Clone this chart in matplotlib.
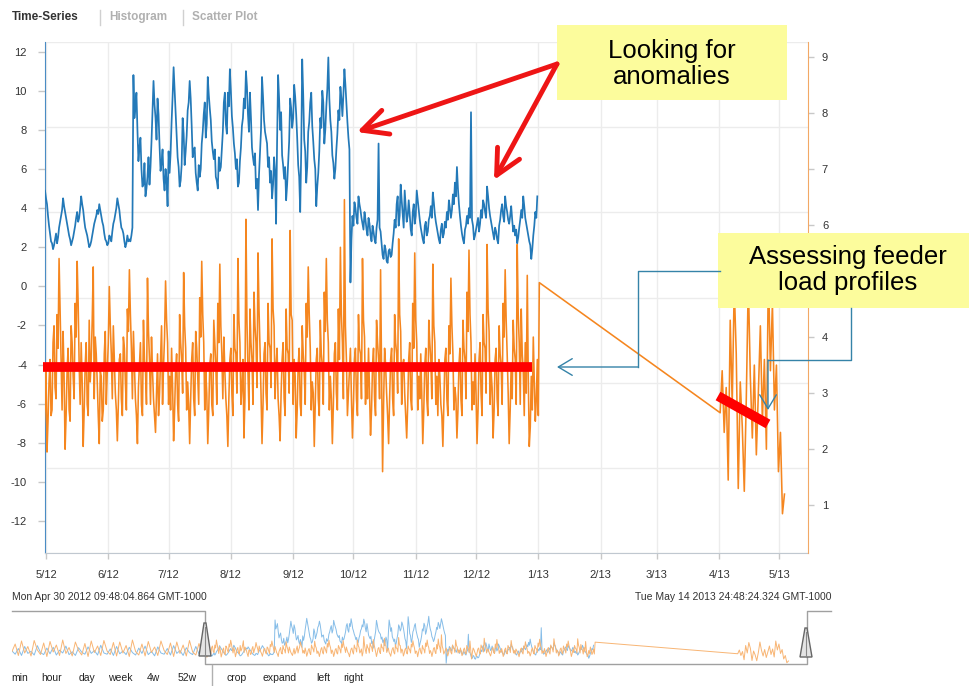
import matplotlib
matplotlib.use('Agg')
import matplotlib.pyplot as plt
import matplotlib.dates as mdates
from matplotlib.patches import Rectangle, Polygon, FancyArrowPatch
from matplotlib.lines import Line2D
from matplotlib.ticker import FuncFormatter
import numpy as np
import pandas as pd

plt.rcParams['font.family'] = ['Liberation Sans', 'DejaVu Sans']

# ---------------- data ----------------
# blue series (left axis): noon readings, daily from 2012-04-30
blue_day = [4.9, 4.2, 3.1, 2.3, 1.9, 2.4, 2.2, 3.0, 3.6, 4.5, 3.8, 3.2, 2.6, 2.1, 2.5, 3.1, 3.8, 3.5, 4.6, 3.9,
            3.0, 2.6, 2.0, 2.3, 2.9, 3.4, 3.9, 4.2, 3.6, 3.1, 2.4, 2.1, 2.6, 2.3, 3.2, 3.7, 4.5, 3.9, 3.0, 2.7,
            2.0, 2.6, 2.4, 2.6,
            10.8, 9.2, 8.0, 7.1, 6.0, 5.2, 4.6, 5.6, 5.2, 7.4, 10.5, 8.6, 9.6, 7.2, 6.3, 5.5, 6.0, 4.1, 5.8, 8.4,
            11.2, 8.9, 6.6, 5.1, 6.2, 7.8, 6.9, 9.0, 10.5, 8.2, 7.0, 5.8, 4.9, 5.6, 7.3, 8.8, 7.6, 10.7, 9.1, 7.4,
            6.5, 5.6, 5.0, 5.9, 7.0, 9.4, 8.3, 9.9, 11.1, 8.7, 7.3, 6.0, 5.1, 6.4, 8.2, 9.6, 11.0, 8.8, 9.9, 7.1,
            6.2, 5.0, 3.9, 6.8, 10.7, 8.5, 7.6, 6.1, 5.3, 4.5, 6.6, 3.2, 10.8, 8.0, 6.7, 5.5, 4.4, 6.3, 9.6, 8.1,
            10.3, 8.8, 6.2, 3.8, 11.6, 7.5, 5.3, 7.9, 9.4, 8.2, 6.5, 4.1, 5.8, 8.6, 10.0, 7.3, 9.2, 11.7, 8.5, 6.7,
            5.5, 7.0, 9.0, 10.2, 8.7, 11.1, 9.3, 7.6,
            0.2, 3.6, 4.3, 3.5, 4.6, 3.9, 3.2, 3.8, 2.9, 3.5, 2.6, 3.1, 2.4, 3.0, 7.3, 2.8, 1.6, 2.1, 1.3, 1.8,
            1.5, 2.2, 3.4, 4.2, 3.1, 5.2, 3.7, 4.9, 3.3, 4.4, 2.9, 3.8, 3.2, 4.9, 3.9, 3.0, 2.4, 3.1, 2.6, 3.4,
            4.1, 4.8, 3.7, 3.0, 2.4, 2.9, 2.5, 3.3, 3.8, 4.4, 3.5, 4.7, 5.3, 6.1, 4.2, 3.1, 2.4, 2.9, 3.6, 4.0,
            8.9, 3.1, 2.6, 3.2, 2.8, 3.9, 4.4, 3.8, 5.1, 4.0, 3.3, 2.7, 3.0, 2.4, 3.1, 3.9, 3.6, 4.6, 3.8, 3.2,
            4.1, 2.8, 2.6, 2.2, 3.0, 3.9, 4.6, 3.5, 2.9, 2.3, 1.4, 2.6, 3.8, 4.6]
# blue series: midnight readings (each one just before the noon reading of the same index)
blue_night = [4.6, 4.5, 3.6, 2.7, 2.2, 2.1, 2.7, 2.5, 3.3, 3.9, 4.1, 3.5, 2.9, 2.4, 2.3, 2.8, 3.5, 3.3, 4.0, 4.2,
              3.4, 2.8, 2.3, 2.1, 2.6, 3.2, 3.6, 3.7, 3.9, 3.3, 2.7, 2.3, 2.2, 2.5, 2.8, 3.4, 4.0, 4.2, 3.4, 2.9,
              2.3, 2.2, 2.3, 2.3,
              3.0, 8.6, 9.9, 6.4, 7.6, 5.1, 6.3, 5.0, 6.6, 6.1, 8.9, 9.3, 7.5, 8.8, 5.9, 7.0, 4.9, 5.4, 6.9, 6.8,
              9.7, 10.1, 7.7, 6.1, 5.4, 8.6, 6.2, 7.7, 9.4, 9.6, 6.6, 7.1, 5.3, 6.2, 6.0, 7.9, 9.4, 8.3, 9.8, 8.5,
              6.9, 7.0, 5.4, 6.6, 6.1, 7.9, 9.9, 7.8, 9.2, 10.0, 8.1, 6.8, 6.5, 5.3, 7.1, 8.6, 9.1, 10.2, 7.9, 8.6,
              6.6, 6.8, 5.5, 5.7, 8.0, 9.7, 7.9, 7.3, 6.6, 5.9, 5.2, 5.9, 7.4, 9.6, 8.9, 6.2, 6.1, 5.2, 7.4, 9.1,
              8.6, 9.7, 7.6, 5.6, 6.9, 9.8, 6.9, 6.1, 8.4, 9.9, 7.4, 6.0, 5.1, 6.9, 8.1, 9.4, 8.0, 10.1, 9.6, 7.9,
              6.3, 6.0, 7.8, 8.5, 9.6, 9.8, 10.3, 8.4,
              7.0, 2.4, 3.1, 4.0, 3.2, 4.2, 3.5, 2.9, 3.4, 2.6, 3.2, 2.3, 2.8, 2.2, 3.4, 3.0, 2.2, 1.4, 1.9, 1.2,
              1.9, 1.6, 2.7, 3.0, 4.6, 3.6, 4.4, 3.0, 4.1, 3.6, 3.7, 2.6, 4.2, 3.6, 4.4, 3.4, 2.7, 2.2, 3.3, 2.8,
              3.6, 3.5, 4.3, 3.3, 2.7, 2.2, 3.2, 2.7, 3.0, 3.4, 4.0, 3.9, 4.2, 4.6, 5.0, 3.6, 2.7, 2.2, 3.1, 3.2,
              3.5, 3.4, 2.4, 2.9, 3.5, 3.2, 3.5, 4.2, 3.5, 4.6, 3.6, 3.0, 2.4, 2.8, 2.2, 3.4, 4.2, 3.3, 4.1, 3.4,
              3.6, 3.4, 3.1, 2.9, 2.5, 3.4, 3.5, 4.1, 3.2, 2.6, 2.1, 1.9, 3.1, 3.5]

# orange series (right axis): noon readings, daily from 2012-04-30
orange_day = [2.8, 1.95, 3.2, 2.6, 3.9, 3.1, 4.4, 5.4, 3.6, 4.1, 2.0,
              3.4, 2.7, 4.2, 3.3, 4.6, 5.35, 3.5, 3.9, 2.05,
              3.5, 2.8, 4.3, 3.6, 5.25, 4.0, 3.2, 2.1,
              3.3, 2.7, 4.1, 3.4, 4.9, 3.7, 4.2, 3.0, 2.15,
              3.6, 2.9, 4.0, 3.2, 4.5, 5.2, 3.8, 4.1, 2.9, 2.1,
              3.5, 2.8, 4.3, 3.4, 5.05, 3.6, 4.0, 2.9, 2.3,
              3.7, 3.0, 4.2, 3.5, 5.0, 3.9, 3.3, 3.8, 2.15,
              3.4, 2.8, 4.4, 3.6, 5.15, 3.8, 3.2, 2.1,
              3.6, 2.9, 4.1, 3.3, 4.7, 5.35, 3.9, 3.4, 2.1,
              3.5, 2.8, 4.3, 3.5, 4.6, 5.3, 3.7, 4.0, 2.9, 2.05,
              3.6, 3.0, 4.4, 3.7, 5.4, 3.9, 3.1, 2.2, 6.1,
              3.4, 4.5, 3.6, 4.8, 3.9, 5.5, 3.8, 2.1,
              3.7, 3.0, 4.6, 3.8, 5.75, 4.2, 3.5, 2.9, 2.15,
              3.6, 2.9, 4.5, 3.7, 5.9, 4.3, 3.6, 2.2,
              3.5, 2.8, 4.2, 3.4, 4.6, 5.25, 3.8, 3.2, 2.05,
              3.6, 2.9, 4.3, 3.5, 4.8, 5.4, 3.9, 3.3, 2.1,
              3.7, 3.0, 4.5, 5.6, 3.9, 6.45, 3.6, 3.0, 3.8, 2.2,
              3.6, 2.9, 4.4, 3.7, 5.4, 4.0, 3.4, 3.8, 2.25,
              3.5, 2.9, 4.3, 3.6, 5.2, 1.6, 3.8, 3.0, 2.1,
              3.6, 2.9, 4.4, 3.7, 5.75, 4.1, 3.5, 3.0, 2.2,
              3.6, 2.9, 4.6, 5.5, 3.9, 3.3, 3.7, 2.1,
              3.5, 2.9, 4.3, 3.6, 5.3, 3.9, 3.3, 3.6, 2.8, 2.05,
              3.6, 2.9, 4.2, 5.05, 3.7, 3.1, 2.2,
              3.5, 2.9, 4.3, 3.6, 4.8, 5.55, 3.9, 3.2, 3.7, 2.1,
              3.6, 3.0, 4.4, 3.8, 5.65, 4.1, 3.4, 2.2,
              3.6, 2.9, 4.2, 3.5, 4.6, 5.2, 3.7, 2.1,
              3.5, 4.3, 3.6, 5.65, 3.9, 4.5, 3.4, 3.9, 5.1, 2.05,
              3.3, 4.0, 2.5, 3.6, 4.97]
# orange series: midnight readings
orange_night = [2.3, 3.4, 2.5, 3.6, 2.7, 4.2, 2.9, 3.8, 4.5, 2.7, 3.3,
                2.6, 3.8, 2.5, 3.9, 2.9, 4.0, 4.6, 2.8, 3.2,
                2.7, 3.9, 2.6, 3.2, 4.3, 2.9, 3.7, 2.6,
                3.4, 2.5, 3.7, 2.8, 3.9, 4.2, 2.9, 3.6, 2.7,
                2.8, 3.7, 2.6, 3.8, 2.7, 4.1, 4.4, 2.9, 3.5, 2.6,
                3.1, 3.9, 2.6, 3.6, 2.8, 4.1, 2.8, 3.4, 2.6,
                3.0, 2.6, 3.6, 2.8, 4.0, 4.3, 2.8, 2.7, 3.1,
                2.7, 3.7, 2.5, 3.9, 3.0, 4.2, 2.7, 2.8,
                2.9, 3.9, 2.6, 3.8, 2.8, 4.0, 4.4, 2.7, 3.0,
                2.7, 3.7, 2.6, 3.9, 2.8, 3.9, 4.2, 2.9, 3.4, 2.6,
                2.9, 3.8, 2.6, 3.8, 3.0, 4.3, 2.8, 3.6, 2.9,
                4.3, 2.7, 3.9, 2.8, 4.2, 3.1, 4.5, 3.0,
                2.8, 3.9, 2.7, 3.9, 3.1, 4.5, 2.9, 3.8, 2.6,
                3.0, 3.9, 2.6, 3.8, 3.0, 4.4, 2.8, 3.3,
                2.7, 3.8, 2.6, 3.7, 2.8, 4.0, 4.4, 2.7, 3.0,
                2.8, 3.8, 2.6, 3.7, 2.8, 4.1, 4.3, 2.7, 2.9,
                2.8, 3.9, 2.7, 3.6, 4.4, 2.9, 4.2, 2.6, 3.4, 2.9,
                2.8, 3.8, 2.6, 3.8, 2.9, 4.3, 2.8, 2.9, 3.0,
                2.7, 3.8, 2.6, 3.9, 2.9, 3.4, 2.8, 3.5, 2.6,
                2.9, 3.8, 2.6, 3.9, 3.0, 4.4, 2.8, 3.6, 2.6,
                2.8, 3.9, 2.7, 3.8, 4.3, 2.7, 2.9, 3.0,
                2.7, 3.8, 2.6, 3.9, 2.9, 4.2, 2.8, 2.6, 3.3, 2.6,
                2.8, 3.8, 2.6, 3.7, 4.2, 2.7, 2.9,
                2.7, 3.8, 2.6, 3.8, 2.9, 4.1, 4.4, 2.7, 2.8, 3.0,
                2.7, 3.9, 2.6, 3.9, 3.0, 4.5, 2.8, 3.1,
                2.7, 3.8, 2.6, 3.7, 2.8, 4.0, 4.3, 3.0,
                2.7, 2.9, 3.8, 2.8, 4.4, 2.8, 3.7, 2.6, 3.0, 3.3,
                2.4, 2.7, 3.2, 2.9, 2.6]

# orange series, April 2013 block (daily from 2013-04-01)
april_orange = [2.65, 3.4, 2.3, 3.1, 1.45, 4.3, 2.8, 4.9, 3.7, 1.3, 3.2, 2.4, 1.25, 2.9, 5.0, 3.3, 2.2,
                3.5, 1.9, 3.0, 4.2, 2.5, 3.6, 2.0, 5.2, 3.4, 4.6, 2.7, 3.5, 1.6, 2.3, 0.85, 1.2]

# navigator only: earlier history (every 2 days from 2011-12-30)
early_blue = [3.2, 2.4, 3.8, 2.1, 4.3, 2.6, 3.1, 2.2, 4.5, 2.8, 2.3, 3.9, 2.5, 4.1, 2.2, 3.4, 2.7, 4.4, 2.3, 3.0,
              2.1, 4.0, 2.9, 2.4, 4.2, 2.6, 3.3, 2.2, 4.6, 2.7, 2.4, 3.7, 2.1, 4.3, 2.5, 3.2, 2.3, 4.1, 2.8, 2.2,
              3.9, 2.6, 4.4, 2.3, 3.1, 2.0, 4.2, 2.7, 2.4, 3.8, 2.2, 4.5, 2.6, 3.3, 2.1, 4.0, 2.8, 2.3, 4.3, 2.5, 3.9]
early_orange = [3.1, 4.6, 2.3, 5.2, 2.8, 4.1, 2.2, 5.3, 3.4, 2.5, 4.8, 2.1, 5.1, 3.0, 4.4, 2.3, 5.4, 2.7, 3.9, 2.2,
                5.0, 3.3, 2.4, 4.7, 2.1, 5.2, 2.9, 4.2, 2.3, 5.3, 3.2, 2.5, 4.9, 2.2, 5.0, 2.8, 4.3, 2.1, 5.4, 3.1,
                2.4, 4.6, 2.2, 5.1, 2.9, 4.0, 2.3, 5.2, 3.3, 2.5, 4.8, 2.1, 5.0, 2.7, 4.4, 2.2, 5.3, 3.0, 2.4, 4.7, 2.8]

left_ticks = list(range(-12, 13, 2))
right_ticks = list(range(1, 10))
tab_labels = ['Time-Series', 'Histogram', 'Scatter Plot']
range_buttons = ['min', 'hour', 'day', 'week', '4w', '52w']
action_buttons = ['crop', 'expand', 'left', 'right']
nav_start_text = 'Mon Apr 30 2012 09:48:04.864 GMT-1000'
nav_end_text = 'Tue May 14 2013 24:48:24.324 GMT-1000'


def interleave(night, day):
    return [v for pair in zip(night, day) for v in pair]


# ---------------- figure ----------------
W, H = 970, 686
fig = plt.figure(figsize=(W / 100, H / 100), dpi=100)
fig.patch.set_facecolor('white')


def fx(x):
    return x / W


def fy(y):
    return 1 - y / H


def fp(x, y):
    return (x / W, 1 - y / H)


BLUE = '#2379b8'
ORANGE = '#f5861f'

ax = fig.add_axes([fx(45), fy(553), fx(808) - fx(45), fy(42) - fy(553)])
ax2 = ax.twinx()

x0 = pd.Timestamp('2012-04-30 12:00')
x1 = pd.Timestamp('2013-05-15 05:00')

blue_vals = interleave(blue_night, blue_day)
blue_dates = pd.date_range('2012-04-30 00:00', periods=len(blue_vals), freq='12h')
orange_vals = interleave(orange_night, orange_day)
orange_dates = pd.date_range('2012-04-30 00:00', periods=len(orange_vals), freq='12h')
april_dates = pd.date_range('2013-04-01 12:00', periods=len(april_orange), freq='D')
early_dates = pd.date_range('2011-12-30 12:00', periods=len(early_blue), freq='2D')

# grid
for k in range(7):
    ax.plot([0, 1], [k / 6, k / 6], transform=ax.transAxes, color='#ececec', lw=1, zorder=0)
ax.xaxis.grid(True, color='#ececec', lw=1, zorder=0)
ax.set_axisbelow(True)

ax.plot(blue_dates, blue_vals, color=BLUE, lw=1.25, zorder=3)
o_dates = orange_dates.append(april_dates)
o_vals = list(orange_vals) + list(april_orange)
ax2.plot(o_dates, o_vals, color=ORANGE, lw=1.15, zorder=3)

ax.set_xlim(x0, x1)
ax.set_ylim(-13.63, 12.49)
ax2.set_ylim(0.15, 9.26)
ax.set_yticks(left_ticks)
ax.set_yticklabels([str(t) for t in left_ticks])
ax2.set_yticks(right_ticks)
# the "5" label is hidden behind the callout box in the original
ax2.set_yticklabels(['' if t == 5 else str(t) for t in right_ticks])

ax.xaxis.set_major_locator(mdates.MonthLocator())
ax.xaxis.set_major_formatter(FuncFormatter(
    lambda v, pos: f"{mdates.num2date(v).month}/{mdates.num2date(v).strftime('%y')}"))

for a in (ax, ax2):
    a.spines['top'].set_visible(False)
ax2.spines['left'].set_visible(False)
ax2.spines['bottom'].set_visible(False)
ax.spines['right'].set_visible(False)
ax.spines['left'].set_color('#4a8cc4')
ax2.spines['right'].set_color('#f2a866')
ax.spines['bottom'].set_color('#c0c8d0')

ax.tick_params(axis='y', length=5, width=1, color='#c8c8c8', labelcolor='#333333', labelsize=8, pad=8)
ax2.tick_params(axis='y', length=4, width=1, color='#c8c8c8', labelcolor='#333333', labelsize=8, pad=6)
ax.tick_params(axis='x', length=4, width=1, color='#c8c8c8', labelcolor='#333333', labelsize=8, pad=8)

# ---------------- navigator ----------------
axn = fig.add_axes([fx(12), fy(664), fx(807) - fx(12), fy(611) - fy(664)])
axn2 = axn.twinx()
nb_dates = early_dates.append(blue_dates)
nb_vals = list(early_blue) + list(blue_vals)
no_dates = early_dates.append(o_dates)
no_vals = list(early_orange) + o_vals
axn.plot(nb_dates, nb_vals, color='#86bde8', lw=0.7)
axn2.plot(no_dates, no_vals, color='#f8b574', lw=0.7)
axn.set_xlim(pd.Timestamp('2011-12-30 12:00'), x1)
axn.set_ylim(0.0, 13.0)
axn2.set_ylim(0.6, 11.2)
axn.axis('off')
axn2.axis('off')

gray = '#a0a0a0'
frame = [(12, 611), (205, 611), (205, 664), (807, 664), (807, 611), (831, 611)]
fig.add_artist(Line2D([fx(p[0]) for p in frame], [fy(p[1]) for p in frame], color=gray, lw=1))
fig.add_artist(Line2D([fx(212), fx(212)], [fy(665), fy(686)], color='#b0b0b0', lw=1))

for hx, top, bot in [(205, 623, 656), (806, 628, 657)]:
    poly = Polygon([fp(hx - 6, bot), fp(hx + 6, bot), fp(hx + 1, top), fp(hx - 1, top)],
                   closed=True, facecolor='#e4e4e4', edgecolor='#666666', lw=1,
                   transform=fig.transFigure, zorder=5)
    fig.add_artist(poly)
    fig.add_artist(Line2D([fx(hx), fx(hx)], [fy(top + 4), fy(bot)], color='#888888', lw=0.8, zorder=6))

fig.text(fx(12), fy(597), nav_start_text, fontsize=7.5, color='#333333', va='center', ha='left')
fig.text(fx(832), fy(597), nav_end_text, fontsize=7.5, color='#333333', va='center', ha='right')

btn_x = [20, 52, 87, 120, 153, 187]
for t, bx in zip(range_buttons, btn_x):
    fig.text(fx(bx), fy(678), t, fontsize=7.5, color='#222222', va='center', ha='center')
act_x = [237, 280, 323, 353]
for t, bx in zip(action_buttons, act_x):
    fig.text(fx(bx), fy(678), t, fontsize=7.5, color='#222222', va='center', ha='center')

# ---------------- tabs ----------------
fig.text(fx(12), fy(17), tab_labels[0], fontsize=8.5, fontweight='bold', color='#333333', va='center')
fig.text(fx(109), fy(17), tab_labels[1], fontsize=8.5, fontweight='bold', color='#b0b0b0', va='center')
fig.text(fx(192), fy(17), tab_labels[2], fontsize=8.5, fontweight='bold', color='#b0b0b0', va='center')
for sx in (100, 183):
    fig.add_artist(Line2D([fx(sx), fx(sx)], [fy(10), fy(25)], color='#d0d0d0', lw=1))

# ---------------- annotations ----------------
YEL = '#fcfc9c'
fig.add_artist(Rectangle(fp(557, 100), fx(787) - fx(557), fy(25) - fy(100),
                         transform=fig.transFigure, facecolor=YEL, edgecolor='none', zorder=10))
fig.text(fx(672), fy(64), 'Looking for\nanomalies', fontsize=18.5, ha='center', va='center',
         linespacing=1.1, color='black', zorder=11)

fig.add_artist(Rectangle(fp(718, 308), fx(970) - fx(718), fy(233) - fy(308),
                         transform=fig.transFigure, facecolor=YEL, edgecolor='none', zorder=10))
fig.text(fx(848), fy(270), 'Assessing feeder\nload profiles', fontsize=18.5, ha='center', va='center',
         linespacing=1.1, color='black', zorder=11)

RED = '#ee1515'
for tip in [(357, 132), (494, 180)]:
    fig.add_artist(FancyArrowPatch(
        fp(557, 64), fp(*tip), transform=fig.transFigure,
        arrowstyle='->,head_length=0.9,head_width=0.45', mutation_scale=20,
        color=RED, lw=3.5, zorder=12, shrinkA=0, shrinkB=0))

fig.add_artist(Line2D([fx(43), fx(532)], [fy(367), fy(367)], color='#ff0000', lw=7,
                      solid_capstyle='butt', zorder=12))
fig.add_artist(Line2D([fx(718), fx(768)], [fy(396), fy(424)], color='#ff0000', lw=7,
                      solid_capstyle='butt', zorder=12))

TEAL = '#3583a8'
pathA = [(720, 271), (638, 271), (638, 367)]
fig.add_artist(Line2D([fx(p[0]) for p in pathA], [fy(p[1]) for p in pathA], color=TEAL, lw=1, zorder=12))
fig.add_artist(FancyArrowPatch(
    fp(638, 367), fp(557, 367), transform=fig.transFigure,
    arrowstyle='->,head_length=0.5,head_width=0.3', mutation_scale=20,
    color=TEAL, lw=1, zorder=12, shrinkA=0, shrinkB=0))
pathB = [(851, 308), (851, 360), (768, 360)]
fig.add_artist(Line2D([fx(p[0]) for p in pathB], [fy(p[1]) for p in pathB], color=TEAL, lw=1, zorder=12))
fig.add_artist(FancyArrowPatch(
    fp(768, 360), fp(768, 410), transform=fig.transFigure,
    arrowstyle='->,head_length=0.5,head_width=0.3', mutation_scale=20,
    color=TEAL, lw=1, zorder=12, shrinkA=0, shrinkB=0))

fig.savefig('out.png', dpi=100, facecolor='white')
